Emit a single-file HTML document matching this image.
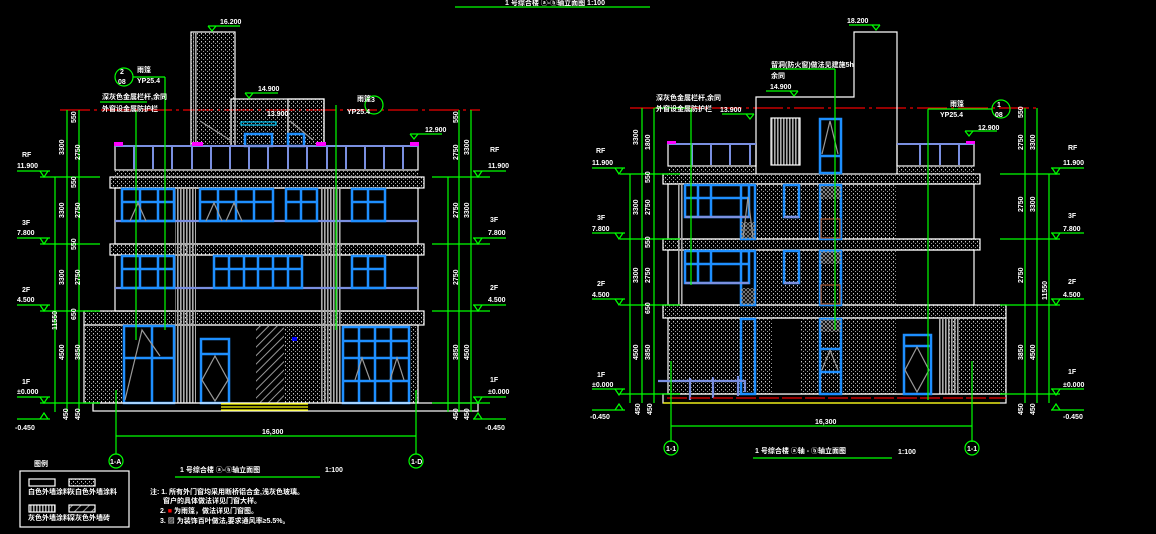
<!DOCTYPE html>
<html><head><meta charset="utf-8"><style>
html,body{margin:0;padding:0;background:#000;width:1156px;height:534px;overflow:hidden}
svg{display:block}
text{font-family:"Liberation Sans","Noto Sans CJK SC",sans-serif;fill:#fff;font-size:7px;font-weight:bold}
</style></head><body>
<svg width="1156" height="534" viewBox="0 0 1156 534" xmlns="http://www.w3.org/2000/svg">
<defs>
<pattern id="dot" width="4" height="4" patternUnits="userSpaceOnUse"><rect x="1" y="1" width="1" height="1.4" fill="#ccc"/><rect x="3" y="3" width="1" height="1" fill="#999"/></pattern>
<pattern id="str" width="3" height="10" patternUnits="userSpaceOnUse"><rect width="1.6" height="10" fill="#aaa"/></pattern>
<pattern id="hat" width="6" height="6" patternUnits="userSpaceOnUse" patternTransform="rotate(45)"><rect width="1" height="6" fill="#999"/></pattern>
<pattern id="xh" width="4" height="4" patternUnits="userSpaceOnUse"><path d="M0 0L4 4M4 0L0 4" stroke="#999" stroke-width=".7"/></pattern>
</defs>
<text x="505" y="5" font-size="7">1 号综合楼  ⓐ-ⓑ轴立面图   1:100</text>
<line x1="455" y1="7" x2="650" y2="7" stroke="#0f0" stroke-width="1.2"/>

<!-- ============ LEFT ELEVATION ============ -->
<g stroke-width="1.2">
<line x1="60" y1="110" x2="480" y2="110" stroke="#e00" stroke-dasharray="30 4 3 4" stroke-width="1.3"/>
<rect x="191" y="32" width="44" height="114" fill="url(#dot)" stroke="#fff"/>
<rect x="193" y="32" width="5" height="114" fill="url(#str)"/>
<rect x="231" y="99" width="93" height="47" fill="url(#dot)" stroke="#fff"/>
<rect x="288" y="99" width="36" height="47" fill="url(#dot)" stroke="#fff"/>
<rect x="241" y="122" width="35" height="3" fill="none" stroke="#0cf"/>
<rect x="245" y="134" width="27" height="12" fill="none" stroke="#1e8fff" stroke-width="2.5"/>
<rect x="288" y="134" width="16" height="12" fill="none" stroke="#1e8fff" stroke-width="2.5"/>
<path d="M200 121L230 140M290 121L313 140" stroke="#999" fill="none"/>
<rect x="115" y="146" width="303" height="24" fill="none" stroke="#fff"/>
<g stroke="#7a8fe0" stroke-width="2">
<line x1="115" y1="146" x2="418" y2="146"/>
<line x1="134" y1="147" x2="134" y2="169"/><line x1="153" y1="147" x2="153" y2="169"/><line x1="172" y1="147" x2="172" y2="169"/><line x1="192" y1="147" x2="192" y2="169"/><line x1="211" y1="147" x2="211" y2="169"/><line x1="230" y1="147" x2="230" y2="169"/><line x1="249" y1="147" x2="249" y2="169"/><line x1="268" y1="147" x2="268" y2="169"/><line x1="288" y1="147" x2="288" y2="169"/><line x1="307" y1="147" x2="307" y2="169"/><line x1="327" y1="147" x2="327" y2="169"/><line x1="346" y1="147" x2="346" y2="169"/><line x1="365" y1="147" x2="365" y2="169"/><line x1="384" y1="147" x2="384" y2="169"/><line x1="403" y1="147" x2="403" y2="169"/>
</g>
<g fill="#f0f"><rect x="114" y="142" width="9" height="4"/><rect x="410" y="142" width="9" height="4"/><rect x="192" y="142" width="11" height="4"/><rect x="316" y="142" width="10" height="4"/></g>
<rect x="115" y="170" width="303" height="7" fill="url(#dot)"/>
<rect x="110" y="177" width="314" height="11" fill="url(#dot)" stroke="#fff"/>
<rect x="110" y="244" width="314" height="11" fill="url(#dot)" stroke="#fff"/>
<rect x="84" y="311" width="340" height="14" fill="url(#dot)" stroke="#fff"/>
<rect x="115" y="188" width="303" height="56" fill="none" stroke="#fff"/>
<rect x="115" y="255" width="303" height="56" fill="none" stroke="#fff"/>
<rect x="84" y="325" width="334" height="78" fill="none" stroke="#fff"/>
<rect x="85" y="326" width="38" height="77" fill="url(#dot)"/>
<rect x="285" y="326" width="46" height="77" fill="url(#dot)"/>
<rect x="409" y="326" width="9" height="77" fill="url(#dot)"/>
<rect x="175" y="188" width="21" height="215" fill="url(#str)"/>
<rect x="320" y="188" width="21" height="215" fill="url(#str)"/>
<rect x="256" y="326" width="28" height="77" fill="url(#hat)"/>
<g stroke="#7a8fe0" stroke-width="2.2"><line x1="115" y1="221" x2="418" y2="221"/><line x1="115" y1="288" x2="418" y2="288"/></g>
<g fill="none" stroke="#1e8fff" stroke-width="2.5">
<rect x="122" y="189" width="52" height="32"/><line x1="140" y1="189" x2="140" y2="221"/><line x1="158" y1="189" x2="158" y2="221"/><line x1="122" y1="202" x2="174" y2="202"/>
<rect x="200" y="189" width="73" height="32"/><line x1="218" y1="189" x2="218" y2="221"/><line x1="236" y1="189" x2="236" y2="221"/><line x1="254" y1="189" x2="254" y2="221"/><line x1="200" y1="202" x2="273" y2="202"/>
<rect x="286" y="189" width="31" height="32"/><line x1="301" y1="189" x2="301" y2="221"/><line x1="286" y1="202" x2="317" y2="202"/>
<rect x="352" y="189" width="33" height="32"/><line x1="368" y1="189" x2="368" y2="221"/><line x1="352" y1="202" x2="385" y2="202"/>
<rect x="122" y="256" width="52" height="32"/><line x1="140" y1="256" x2="140" y2="288"/><line x1="158" y1="256" x2="158" y2="288"/><line x1="122" y1="269" x2="174" y2="269"/>
<rect x="214" y="256" width="88" height="32"/><line x1="229" y1="256" x2="229" y2="288"/><line x1="244" y1="256" x2="244" y2="288"/><line x1="258" y1="256" x2="258" y2="288"/><line x1="273" y1="256" x2="273" y2="288"/><line x1="288" y1="256" x2="288" y2="288"/><line x1="214" y1="269" x2="302" y2="269"/>
<rect x="352" y="256" width="33" height="32"/><line x1="368" y1="256" x2="368" y2="288"/><line x1="352" y1="269" x2="385" y2="269"/>
<rect x="124" y="326" width="50" height="77"/><line x1="152" y1="326" x2="152" y2="403"/><line x1="124" y1="358" x2="174" y2="358"/>
<rect x="201" y="339" width="28" height="64"/><line x1="201" y1="354" x2="229" y2="354"/>
<rect x="343" y="327" width="66" height="76"/><line x1="359" y1="327" x2="359" y2="403"/><line x1="375" y1="327" x2="375" y2="403"/><line x1="391" y1="327" x2="391" y2="403"/><line x1="343" y1="341" x2="409" y2="341"/><line x1="343" y1="358" x2="409" y2="358"/><line x1="343" y1="381" x2="409" y2="381"/>
</g>
<path d="M215 356L228 380L215 401L202 380Z M125 400L142 330L160 356 M355 380L362 358L370 380 M390 380L397 358L404 380 M130 221L138 203L146 221 M206 221L214 203L222 221 M226 221L234 203L242 221" stroke="#999" fill="none"/>
<rect x="292" y="337" width="5" height="4" fill="#00f"/>
<rect x="93" y="403" width="385" height="8" fill="none" stroke="#fff"/>
<g stroke="#ff0" stroke-width="1.3"><line x1="221" y1="404" x2="308" y2="404"/><line x1="221" y1="407" x2="308" y2="407"/><line x1="221" y1="410" x2="308" y2="410"/></g>
<g stroke="#0f0" fill="none">
<line x1="55" y1="177" x2="55" y2="412"/><line x1="67" y1="110" x2="67" y2="412"/><line x1="79" y1="110" x2="79" y2="412"/>
<line x1="448" y1="177" x2="448" y2="412"/><line x1="459" y1="110" x2="459" y2="412"/><line x1="471" y1="110" x2="471" y2="412"/>
<line x1="17" y1="171" x2="50" y2="171"/><line x1="17" y1="238" x2="50" y2="238"/><line x1="17" y1="305" x2="50" y2="305"/><line x1="17" y1="397" x2="50" y2="397"/><line x1="17" y1="419" x2="50" y2="419"/>
<line x1="473" y1="171" x2="506" y2="171"/><line x1="473" y1="238" x2="506" y2="238"/><line x1="473" y1="305" x2="506" y2="305"/><line x1="473" y1="397" x2="506" y2="397"/><line x1="473" y1="419" x2="506" y2="419"/>
<path d="M40 171l4 6 4-6M40 238l4 6 4-6M40 305l4 6 4-6M40 397l4 6 4-6M40 419l4-6 4 6M474 171l4 6 4-6M474 238l4 6 4-6M474 305l4 6 4-6M474 397l4 6 4-6M474 419l4-6 4 6"/>
<line x1="40" y1="177" x2="100" y2="177"/><line x1="40" y1="244" x2="100" y2="244"/><line x1="40" y1="311" x2="100" y2="311"/><line x1="40" y1="403" x2="100" y2="403"/>
<line x1="432" y1="177" x2="490" y2="177"/><line x1="432" y1="244" x2="490" y2="244"/><line x1="432" y1="311" x2="490" y2="311"/><line x1="432" y1="403" x2="490" y2="403"/>
<line x1="116" y1="390" x2="116" y2="454"/><line x1="416" y1="390" x2="416" y2="454"/><line x1="116" y1="436" x2="416" y2="436"/>
<circle cx="116" cy="461" r="7"/><circle cx="416" cy="461" r="7"/>
<circle cx="124" cy="77" r="9"/><circle cx="374" cy="105" r="9"/>
<line x1="133" y1="77" x2="165" y2="77"/><line x1="165" y1="77" x2="165" y2="330"/><line x1="336" y1="105" x2="336" y2="330"/>
<line x1="136" y1="110" x2="136" y2="340"/><line x1="100" y1="102" x2="147" y2="102"/>
<line x1="208" y1="26" x2="240" y2="26"/><path d="M208 26l4 5 4-5"/>
<line x1="245" y1="93" x2="278" y2="93"/><path d="M245 93l4 5 4-5"/>
<line x1="410" y1="134" x2="442" y2="134"/><path d="M410 134l4 5 4-5"/>
<line x1="175" y1="477" x2="320" y2="477"/>
</g>
<g font-size="6.5">
<text x="220" y="24">16.200</text><text x="258" y="91">14.900</text><text x="267" y="116">13.900</text><text x="425" y="132">12.900</text>
<text x="137" y="72">雨篷</text><text x="137" y="83">YP25.4</text><text x="120" y="74" font-size="5">2</text><text x="118" y="84" font-size="5">08</text>
<text x="102" y="99">深灰色金属栏杆,余同</text><text x="102" y="111">外窗设金属防护栏</text>
<text x="357" y="101">雨篷</text><text x="347" y="114">YP25.4</text><text x="371" y="102" font-size="5">3</text>
<text x="22" y="157">RF</text><text x="17" y="168">11.900</text><text x="22" y="225">3F</text><text x="17" y="235">7.800</text>
<text x="22" y="292">2F</text><text x="17" y="302">4.500</text><text x="22" y="384">1F</text><text x="17" y="394">±0.000</text><text x="15" y="430">-0.450</text>
<text x="490" y="152">RF</text><text x="488" y="168">11.900</text><text x="490" y="222">3F</text><text x="488" y="235">7.800</text>
<text x="490" y="290">2F</text><text x="488" y="302">4.500</text><text x="490" y="382">1F</text><text x="488" y="394">±0.000</text><text x="485" y="430">-0.450</text>
<text x="262" y="434">16,300</text>
<text x="110" y="464" font-size="5">1-A</text><text x="411" y="464" font-size="5">1-D</text>
<text x="180" y="472" font-size="9.5">1 号综合楼 ⓐ-ⓑ轴立面图</text><text x="325" y="472">1:100</text>
</g>
<g font-size="6.5" transform="rotate(-90)">
<text x="-123" y="76">550</text><text x="-155" y="64">3300</text><text x="-160" y="80">2750</text><text x="-188" y="76">550</text>
<text x="-218" y="64">3300</text><text x="-218" y="80">2750</text><text x="-250" y="76">550</text>
<text x="-285" y="64">3300</text><text x="-285" y="80">2750</text><text x="-320" y="76">650</text><text x="-360" y="64">4500</text><text x="-360" y="80">3850</text>
<text x="-420" y="68">450</text><text x="-420" y="80">450</text><text x="-330" y="57">11550</text>
<text x="-123" y="458">550</text><text x="-155" y="469">3300</text><text x="-160" y="458">2750</text>
<text x="-218" y="469">3300</text><text x="-218" y="458">2750</text><text x="-285" y="458">2750</text><text x="-360" y="458">3850</text><text x="-360" y="469">4500</text><text x="-420" y="458">450</text><text x="-420" y="469">450</text>
</g>
<text x="34" y="466" font-size="6.5">图例</text>
<rect x="20" y="471" width="109" height="56" fill="none" stroke="#fff"/>
<rect x="29" y="479" width="26" height="7" fill="none" stroke="#fff"/>
<rect x="69" y="479" width="26" height="7" fill="url(#dot)" stroke="#fff"/>
<rect x="29" y="505" width="26" height="7" fill="url(#str)" stroke="#fff"/>
<rect x="69" y="505" width="26" height="7" fill="url(#hat)" stroke="#fff"/>
<g font-size="5.5"><text x="28" y="494">白色外墙涂料</text><text x="68" y="494">灰白色外墙涂料</text><text x="28" y="520">灰色外墙涂料</text><text x="68" y="520">深灰色外墙砖</text></g>
<g font-size="6"><text x="150" y="494">注: 1. 所有外门窗均采用断桥铝合金,浅灰色玻璃。</text><text x="163" y="503">窗户的具体做法详见门窗大样。</text>
<text x="160" y="513">2. <tspan fill="#f00">■</tspan> 为雨篷，做法详见门窗图。</text><text x="160" y="523">3. ▨ 为装饰百叶做法,要求通风率≥5.5%。</text></g>
</g>

<!-- ============ RIGHT ELEVATION ============ -->
<g stroke-width="1.2">
<line x1="630" y1="108" x2="1040" y2="108" stroke="#e00" stroke-dasharray="30 4 3 4" stroke-width="1.3"/>
<path d="M756 174V97H854V32H897V174" fill="none" stroke="#fff"/>
<rect x="771" y="118" width="29" height="47" fill="url(#str)" stroke="#fff"/>
<rect x="668" y="144" width="88" height="22" fill="none" stroke="#fff"/>
<rect x="897" y="144" width="77" height="22" fill="none" stroke="#fff"/>
<g stroke="#7a8fe0" stroke-width="2"><line x1="668" y1="144" x2="756" y2="144"/><line x1="897" y1="144" x2="974" y2="144"/>
<line x1="692" y1="145" x2="692" y2="165"/><line x1="711" y1="145" x2="711" y2="165"/><line x1="730" y1="145" x2="730" y2="165"/><line x1="750" y1="145" x2="750" y2="165"/><line x1="920" y1="145" x2="920" y2="165"/><line x1="940" y1="145" x2="940" y2="165"/><line x1="959" y1="145" x2="959" y2="165"/></g>
<g fill="#f0f"><rect x="667" y="141" width="9" height="3"/><rect x="966" y="141" width="9" height="3"/></g>
<rect x="668" y="166" width="88" height="8" fill="url(#dot)"/><rect x="897" y="166" width="77" height="8" fill="url(#dot)"/>
<rect x="663" y="174" width="317" height="10" fill="url(#dot)" stroke="#fff"/>
<rect x="663" y="239" width="317" height="11" fill="url(#dot)" stroke="#fff"/>
<rect x="663" y="305" width="343" height="13" fill="url(#dot)" stroke="#fff"/>
<rect x="668" y="184" width="306" height="55" fill="none" stroke="#fff"/>
<rect x="668" y="250" width="306" height="55" fill="none" stroke="#fff"/>
<rect x="755" y="185" width="142" height="120" fill="url(#dot)"/>
<rect x="668" y="318" width="338" height="76" fill="url(#dot)" stroke="#fff"/>
<rect x="772" y="319" width="28" height="75" fill="#000"/>
<rect x="897" y="319" width="52" height="75" fill="#000"/>
<rect x="938" y="319" width="22" height="75" fill="url(#str)"/>
<rect x="677" y="185" width="7" height="120" fill="url(#str)"/>
<rect x="663" y="394" width="343" height="9" fill="none" stroke="#fff"/>
<line x1="663" y1="403" x2="1000" y2="403" stroke="#ff0" stroke-width="1.3"/>
<g fill="none" stroke="#1e8fff" stroke-width="2.5">
<rect x="685" y="185" width="64" height="32"/><line x1="698" y1="185" x2="698" y2="217"/><line x1="711" y1="185" x2="711" y2="217"/><line x1="685" y1="198" x2="749" y2="198"/>
<rect x="685" y="251" width="64" height="32"/><line x1="698" y1="251" x2="698" y2="283"/><line x1="711" y1="251" x2="711" y2="283"/><line x1="685" y1="264" x2="749" y2="264"/>
<rect x="741" y="185" width="14" height="54"/><rect x="741" y="251" width="14" height="54"/>
<rect x="784" y="185" width="15" height="32"/><rect x="784" y="251" width="15" height="32"/>
<rect x="820" y="119" width="21" height="54"/><line x1="820" y1="156" x2="841" y2="156"/>
<rect x="820" y="185" width="21" height="54"/><rect x="820" y="251" width="21" height="54"/>
<rect x="820" y="319" width="21" height="75"/><line x1="820" y1="349" x2="841" y2="349"/><line x1="820" y1="372" x2="841" y2="372"/>
<rect x="741" y="319" width="14" height="75"/>
<rect x="904" y="335" width="27" height="59"/><line x1="904" y1="346" x2="931" y2="346"/>
</g>
<g stroke="#7a8fe0" stroke-width="2.2"><line x1="685" y1="217" x2="749" y2="217"/><line x1="685" y1="283" x2="749" y2="283"/><line x1="784" y1="217" x2="799" y2="217"/><line x1="784" y1="283" x2="799" y2="283"/>
<path d="M658 381H745V392M690 378V400M713 377V398M738 376V396" fill="none"/></g>
<rect x="741" y="222" width="14" height="17" fill="url(#xh)"/><rect x="741" y="288" width="14" height="17" fill="url(#xh)"/>
<rect x="820" y="186" width="21" height="13" fill="url(#xh)"/><rect x="820" y="251" width="21" height="13" fill="url(#xh)"/><rect x="820" y="319" width="21" height="13" fill="url(#xh)"/>
<rect x="821" y="219" width="19" height="19" fill="none" stroke="#a0522d"/><rect x="821" y="285" width="19" height="19" fill="none" stroke="#a0522d"/>
<path d="M917 347L929 370L917 392L905 370Z M822 154L830 121L838 154 M822 370L830 350L838 370 M743 238L748 197L753 238" stroke="#999" fill="none"/>
<line x1="667" y1="398" x2="1006" y2="398" stroke="#e00" stroke-dasharray="20 3"/>
<g stroke="#0f0" fill="none">
<line x1="630" y1="174" x2="630" y2="403"/><line x1="642" y1="108" x2="642" y2="403"/><line x1="654" y1="108" x2="654" y2="403"/>
<line x1="1025" y1="108" x2="1025" y2="403"/><line x1="1037" y1="108" x2="1037" y2="403"/><line x1="1049" y1="174" x2="1049" y2="403"/>
<line x1="592" y1="168" x2="625" y2="168"/><line x1="592" y1="233" x2="625" y2="233"/><line x1="592" y1="299" x2="625" y2="299"/><line x1="592" y1="389" x2="625" y2="389"/><line x1="592" y1="410" x2="625" y2="410"/>
<line x1="1051" y1="168" x2="1084" y2="168"/><line x1="1051" y1="233" x2="1084" y2="233"/><line x1="1051" y1="299" x2="1084" y2="299"/><line x1="1051" y1="389" x2="1084" y2="389"/><line x1="1051" y1="410" x2="1084" y2="410"/>
<path d="M615 168l4 6 4-6M615 233l4 6 4-6M615 299l4 6 4-6M615 389l4 6 4-6M615 410l4-6 4 6M1052 168l4 6 4-6M1052 233l4 6 4-6M1052 299l4 6 4-6M1052 389l4 6 4-6M1052 410l4-6 4 6"/>
<line x1="620" y1="174" x2="680" y2="174"/><line x1="620" y1="239" x2="680" y2="239"/><line x1="620" y1="305" x2="680" y2="305"/><line x1="620" y1="394" x2="680" y2="394"/>
<line x1="1000" y1="174" x2="1060" y2="174"/><line x1="1000" y1="239" x2="1060" y2="239"/><line x1="1000" y1="305" x2="1060" y2="305"/><line x1="1000" y1="394" x2="1060" y2="394"/>
<line x1="671" y1="361" x2="671" y2="442"/><line x1="972" y1="361" x2="972" y2="442"/><line x1="671" y1="426" x2="972" y2="426"/>
<circle cx="671" cy="448" r="7"/><circle cx="972" cy="448" r="7"/><circle cx="1001" cy="109" r="9"/>
<line x1="770" y1="69" x2="835" y2="69"/><line x1="835" y1="69" x2="835" y2="330"/><line x1="655" y1="108" x2="690" y2="108"/><line x1="691" y1="108" x2="691" y2="285"/>
<line x1="928" y1="109" x2="992" y2="109"/><line x1="928" y1="109" x2="928" y2="400"/>
<line x1="849" y1="25" x2="880" y2="25"/><path d="M872 25l4 5 4-5"/>
<line x1="766" y1="91" x2="798" y2="91"/><path d="M790 91l4 5 4-5"/>
<line x1="722" y1="114" x2="754" y2="114"/><path d="M746 114l4 5 4-5"/>
<line x1="965" y1="131" x2="997" y2="131"/><path d="M965 131l4 5 4-5"/>
<line x1="753" y1="458" x2="892" y2="458"/>
</g>
<g font-size="6.5">
<text x="847" y="23">18.200</text><text x="770" y="89">14.900</text><text x="720" y="112">13.900</text><text x="978" y="130">12.900</text>
<text x="771" y="67">留洞(防火窗)做法见建施5h</text><text x="771" y="78">余同</text>
<text x="656" y="100">深灰色金属栏杆,余同</text><text x="656" y="111">外窗设金属防护栏</text>
<text x="950" y="106">雨篷</text><text x="940" y="117">YP25.4</text><text x="997" y="107" font-size="5">1</text><text x="995" y="117" font-size="5">08</text>
<text x="596" y="153">RF</text><text x="592" y="165">11.900</text><text x="597" y="220">3F</text><text x="592" y="231">7.800</text>
<text x="597" y="286">2F</text><text x="592" y="297">4.500</text><text x="597" y="377">1F</text><text x="592" y="387">±0.000</text><text x="590" y="419">-0.450</text>
<text x="1068" y="150">RF</text><text x="1063" y="165">11.900</text><text x="1068" y="218">3F</text><text x="1063" y="231">7.800</text>
<text x="1068" y="284">2F</text><text x="1063" y="297">4.500</text><text x="1068" y="374">1F</text><text x="1063" y="387">±0.000</text><text x="1063" y="419">-0.450</text>
<text x="815" y="424">16,300</text>
<text x="666" y="451" font-size="5">1-1</text><text x="967" y="451" font-size="5">1-1</text>
<text x="755" y="453" font-size="9.5">1 号综合楼   ⓐ轴 - ⓑ轴立面图</text><text x="898" y="454">1:100</text>
</g>
<g font-size="6.5" transform="rotate(-90)">
<text x="-145" y="638">3300</text><text x="-150" y="650">1800</text><text x="-183" y="650">550</text><text x="-215" y="638">3300</text><text x="-215" y="650">2750</text>
<text x="-248" y="650">550</text><text x="-283" y="638">3300</text><text x="-283" y="650">2750</text><text x="-314" y="650">650</text><text x="-360" y="638">4500</text><text x="-360" y="650">3850</text>
<text x="-415" y="640">450</text><text x="-415" y="652">450</text>
<text x="-118" y="1023">550</text><text x="-150" y="1023">2750</text><text x="-150" y="1035">3300</text><text x="-212" y="1023">2750</text><text x="-212" y="1035">3300</text>
<text x="-283" y="1023">2750</text><text x="-360" y="1023">3850</text><text x="-360" y="1035">4500</text><text x="-300" y="1047">11550</text>
<text x="-415" y="1023">450</text><text x="-415" y="1035">450</text>
</g>
</g>
</svg>
</body></html>
